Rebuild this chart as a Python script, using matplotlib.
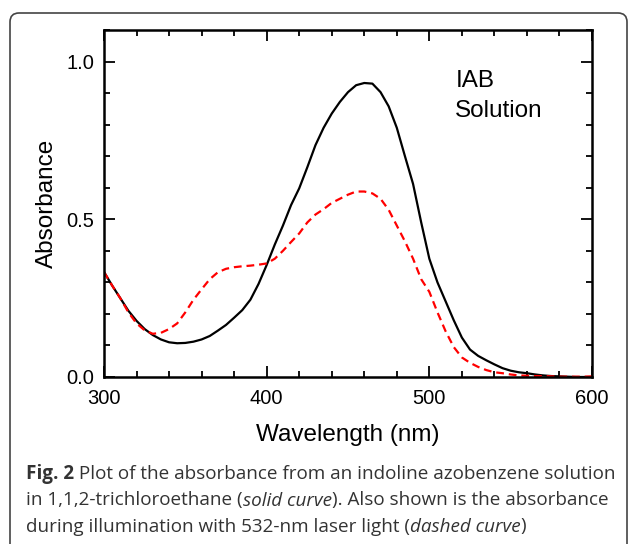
import matplotlib
matplotlib.use("Agg")
import matplotlib.pyplot as plt
from matplotlib.patches import FancyBboxPatch
from matplotlib.ticker import MultipleLocator
from matplotlib.transforms import IdentityTransform

# wavelength grid (nm) and absorbance
wavelength = list(range(300, 605, 5))

solid_curve = [0.333, 0.29, 0.25, 0.21, 0.178, 0.152, 0.133, 0.119, 0.110, 0.107,
               0.108, 0.112, 0.119, 0.130, 0.147, 0.165, 0.188, 0.212, 0.245, 0.295,
               0.355, 0.42, 0.48, 0.545, 0.598, 0.665, 0.735, 0.79, 0.835, 0.872,
               0.903, 0.925, 0.932, 0.930, 0.903, 0.858, 0.79, 0.70, 0.612, 0.49,
               0.375, 0.30, 0.24, 0.18, 0.125, 0.087, 0.067, 0.053, 0.040, 0.028,
               0.020, 0.015, 0.012, 0.008, 0.005, 0.003, 0.002, 0.001, 0.0, 0.0, 0.0]

dashed_curve = [0.333, 0.29, 0.25, 0.205, 0.17, 0.148, 0.137, 0.14, 0.152, 0.17,
                0.205, 0.245, 0.278, 0.31, 0.332, 0.343, 0.348, 0.351, 0.353, 0.356,
                0.36, 0.375, 0.40, 0.428, 0.455, 0.49, 0.515, 0.532, 0.552, 0.565,
                0.578, 0.588, 0.588, 0.582, 0.565, 0.53, 0.48, 0.43, 0.375, 0.31,
                0.27, 0.205, 0.145, 0.095, 0.062, 0.045, 0.032, 0.022, 0.015, 0.012,
                0.008, 0.005, 0.004, 0.003, 0.003, 0.002, 0.001, 0.001, 0.001, 0.001, 0.002]

x_ticks = [300, 400, 500, 600]
y_ticks = [0.0, 0.5, 1.0]

caption_lines = [
    [("Fig. 2", "bold", "normal"),
     (" Plot of the absorbance from an indoline azobenzene solution", "normal", "normal")],
    [("in 1,1,2-trichloroethane (", "normal", "normal"), ("solid curve", "normal", "italic"),
     ("). Also shown is the absorbance", "normal", "normal")],
    [("during illumination with 532-nm laser light (", "normal", "normal"),
     ("dashed curve", "normal", "italic"), (")", "normal", "normal")],
]

plt.rcParams['font.family'] = ['Liberation Sans', 'DejaVu Sans']

fig = plt.figure(figsize=(6.29, 5.44), dpi=100)
W, H = 629, 544
ax = fig.add_axes([104 / W, 1 - 377 / H, 488 / W, 347 / H])

ax.plot(wavelength, solid_curve, color='black', lw=1.6)
ax.plot(wavelength, dashed_curve, color='#ff0000', lw=1.6, ls=(0, (3.5, 2.2)))

ax.set_xlim(300, 600)
ax.set_ylim(0, 1.1)
ax.set_xticks(x_ticks)
ax.set_yticks(y_ticks)
ax.xaxis.set_minor_locator(MultipleLocator(20))
ax.yaxis.set_minor_locator(MultipleLocator(0.1))
ax.set_xticklabels([str(v) for v in x_ticks])
ax.set_yticklabels(["%.1f" % v for v in y_ticks])
ax.tick_params(which='both', direction='in', top=True, right=True, width=1.3,
               labelsize=14.5)
ax.tick_params(axis='x', pad=9)
ax.tick_params(axis='y', pad=7)
ax.tick_params(which='major', length=8)
ax.tick_params(which='minor', length=4.5)
for s in ax.spines.values():
    s.set_linewidth(1.8)

ax.set_xlabel("Wavelength (nm)", fontsize=17.5, labelpad=11)
ax.set_ylabel("Absorbance", fontsize=17.5, labelpad=6)

ax.text(516, 0.919, "IAB", fontsize=17.5, va='baseline')
ax.text(516, 0.823, "Solution", fontsize=17.5, va='baseline')

# rounded frame around the figure
box = FancyBboxPatch((10, -20), 617, 551, boxstyle="round,pad=0,rounding_size=9",
                     transform=IdentityTransform(), fill=False, ec='#444444', lw=1.2)
fig.patches.append(box)

# caption, with bold / italic pieces placed one after another
renderer = fig.canvas.get_renderer()
baselines = [479, 505.5, 531.5]
for line, yb in zip(caption_lines, baselines):
    x = 26
    for txt, weight, style in line:
        t = fig.text(x / W, 1 - yb / H, txt, fontsize=13.6, family='Open Sans',
                     weight=weight, style=style, color='#333333', va='baseline')
        bb = t.get_window_extent(renderer)
        x += bb.width

fig.savefig("out.png", dpi=100)
